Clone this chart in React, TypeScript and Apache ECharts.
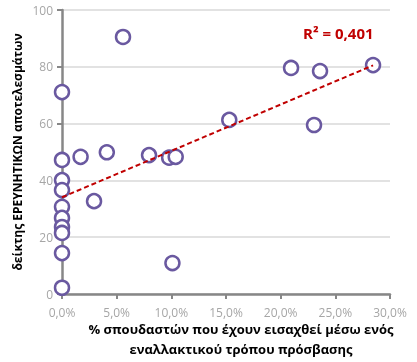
import React, { useEffect, useRef } from "react";
import * as echarts from "echarts";

const xValues: number[] = [0, 5.58, 0, 1.7, 4.1, 0, 0, 0, 0, 0, 0, 0, 0, 2.93, 7.96, 9.8, 10.4, 10.1, 15.3, 20.95, 23.6, 23.05, 28.45];
const yValues: number[] = [71.1, 90.5, 47.2, 48.3, 49.9, 40.1, 36.6, 30.7, 26.8, 23.6, 21.5, 14.4, 2.2, 32.7, 48.9, 48.0, 48.3, 10.9, 61.3, 79.6, 78.5, 59.5, 80.6];
const r2Label = "R² = 0,401";
const xAxisTitle = "% σπουδαστών που έχουν εισαχθεί μέσω ενός\nεναλλακτικού τρόπου πρόσβασης";
const yAxisTitle = "δείκτης ΕΡΕΥΝΗΤΙΚΩΝ αποτελεσμάτων";

function regression(xs: number[], ys: number[]) {
  const n = xs.length;
  const mx = xs.reduce((a, b) => a + b, 0) / n;
  const my = ys.reduce((a, b) => a + b, 0) / n;
  let sxy = 0, sxx = 0;
  for (let i = 0; i < n; i++) {
    sxy += (xs[i] - mx) * (ys[i] - my);
    sxx += (xs[i] - mx) * (xs[i] - mx);
  }
  const slope = sxy / sxx;
  return { slope, intercept: my - slope * mx };
}

export default function App() {
  const ref = useRef<HTMLDivElement>(null);
  useEffect(() => {
    if (!ref.current) return;
    const chart = echarts.init(ref.current, undefined, { renderer: "svg" });
    const { slope, intercept } = regression(xValues, yValues);
    const xMin = Math.min(...xValues);
    const xMax = Math.max(...xValues);
    const trend = [
      [xMin, intercept + slope * xMin],
      [xMax, intercept + slope * xMax],
    ];
    const axisGray = "#878787";
    chart.setOption({
      animation: false,
      textStyle: { fontFamily: "Open Sans" },
      grid: { left: 62, right: 27, top: 10, bottom: 68, outerBoundsMode: "none", containLabel: false },
      xAxis: {
        type: "value",
        min: 0,
        max: 30,
        interval: 5,
        axisLine: { show: true, lineStyle: { color: axisGray, width: 2.5 } },
        axisTick: { show: true, length: 5, lineStyle: { color: axisGray, width: 2 } },
        splitLine: { show: false },
        axisLabel: {
          color: "#a6a6a6",
          fontSize: 12,
          margin: 12,
          formatter: (v: number) => v.toFixed(1).replace(".", ",") + "%",
        },
        name: xAxisTitle,
        nameLocation: "middle",
        nameGap: 24.5,
        nameMoveOverlap: false,
        nameTextStyle: {
          color: "#000",
          fontWeight: "bold",
          fontSize: 13,
          lineHeight: 20,
          verticalAlign: "top",
          padding: [0, 0, 0, 30],
        },
      },
      yAxis: {
        type: "value",
        min: 0,
        max: 100,
        interval: 20,
        axisLine: { show: true, lineStyle: { color: axisGray, width: 2.5 } },
        axisTick: { show: true, length: 5, lineStyle: { color: axisGray, width: 2 } },
        splitLine: { show: true, lineStyle: { color: "#d9d9d9", width: 1.5 } },
        axisLabel: { color: "#a6a6a6", fontSize: 12, margin: 9 },
        name: yAxisTitle,
        nameLocation: "middle",
        nameGap: 39,
        nameMoveOverlap: false,
        nameTextStyle: { color: "#000", fontWeight: "bold", fontSize: 12 },
      },
      series: [
        {
          type: "scatter",
          data: xValues.map((x, i) => [x, yValues[i]]),
          symbol: "circle",
          symbolSize: 14,
          itemStyle: { color: "#ffffff", borderColor: "#6a59a0", borderWidth: 2.5, opacity: 1 },
          z: 2,
        },
        {
          type: "line",
          data: trend,
          symbol: "none",
          lineStyle: { color: "#c00000", width: 2, type: [5, 3] },
          z: 3,
        },
      ],
      graphic: [
        {
          type: "text",
          left: 303,
          top: 25,
          style: { text: r2Label, fill: "#c00000", font: "bold 15px 'Open Sans'" },
        },
      ],
    });
    return () => chart.dispose();
  }, []);
  return (
    <div
      ref={ref}
      style={{ position: "fixed", left: 0, top: 0, width: 417, height: 362 }}
    />
  );
}
